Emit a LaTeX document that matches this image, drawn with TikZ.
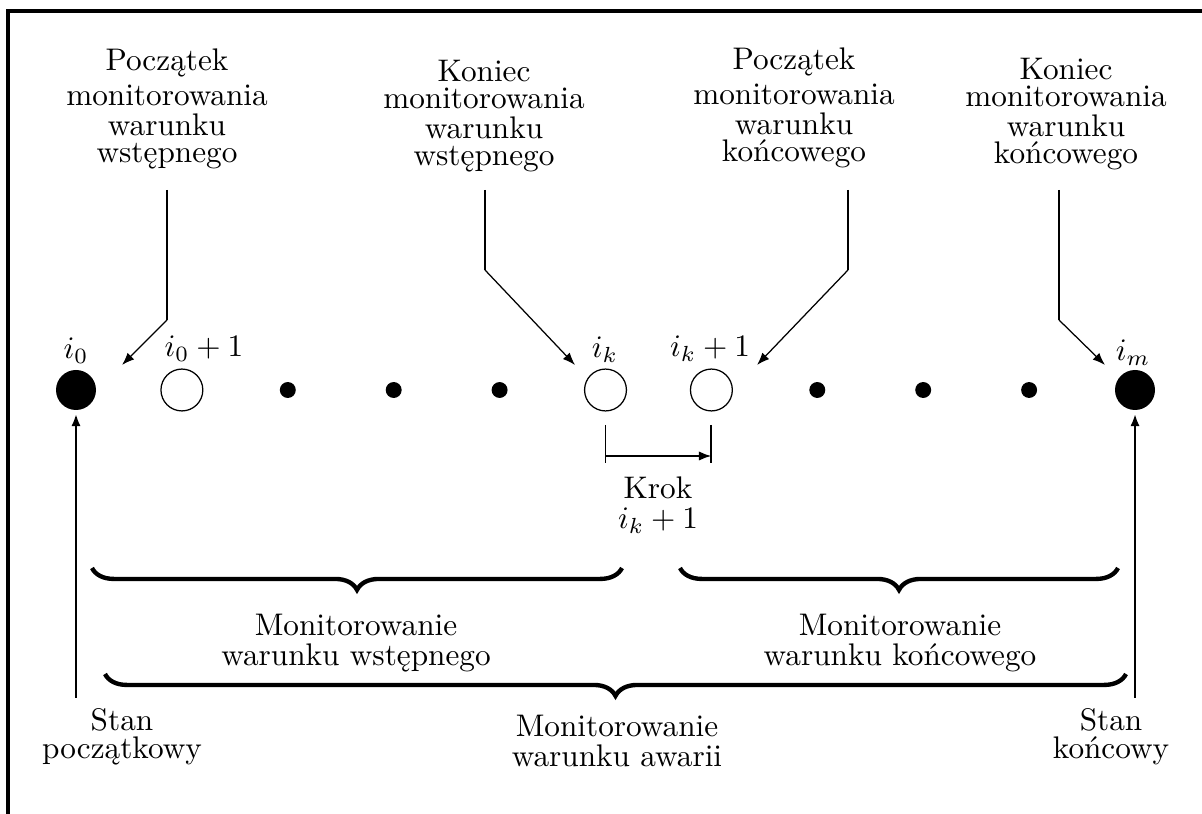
\documentclass[tikz,border=0pt]{standalone}
\usepackage{amsmath}
\usepackage{tikz}
\usetikzlibrary{arrows.meta}
\usetikzlibrary{decorations.pathreplacing}

\begin{document}
\begin{tikzpicture}[x=0.32pt, y=-0.32pt,
        bigdot/.style={circle, fill, minimum size=12.8pt, inner sep=0pt},
        opendot/.style={circle, draw, minimum size=13.4pt, inner sep=0pt},
        smalldot/.style={circle, fill, minimum size=5.1pt, inner sep=0pt},
        lbl/.style={align=center},
        tip/.style={-{Latex[length=4pt, width=3pt]}},
        brc/.style={decorate, decoration={brace, mirror, amplitude=7pt}, line width=1.4pt}]
            \useasboundingbox (0,0) rectangle (1202,814);
            % ramka
            \draw[line width=1.3pt] (8,814) -- (8,11) -- (1202,11);

            % stany
            \node[bigdot] (i0) at (76,390) {};
            \node[opendot] (i1) at (181.9,390) {};
            \foreach \k in {2,3,4,7,8,9}
                \node[smalldot] (d\k) at ({76+105.9*\k},390) {};
            \node[opendot] (ik) at (605.5,390) {};
            \node[opendot] (ik1) at (711.4,390) {};
            \node[bigdot] (im) at (1135,390) {};

            \node (li0) at (76,351) {$i_0$};
            \node (li1) at (204,349) {$i_0+1$};
            \node (lik) at (605,350) {$i_k$};
            \node (lik1) at (710,349) {$i_k+1$};
            \node (lim) at (1133,353) {$i_m$};

            % opisy u gory
            \node[lbl] (pw) at (167,109) {Początek\\[-0.7pt]monitorowania\\[-2.3pt]warunku\\[-3.4pt]wstępnego};
            \node[lbl] (kw) at (484,116) {Koniec\\[-3.4pt]monitorowania\\[-2.3pt]warunku\\[-3.4pt]wstępnego};
            \node[lbl] (pk) at (794,108) {Początek\\[-0.7pt]monitorowania\\[-2.3pt]warunku\\[-3.4pt]końcowego};
            \node[lbl] (kk) at (1066,114) {Koniec\\[-3.4pt]monitorowania\\[-2.3pt]warunku\\[-3.4pt]końcowego};

            \coordinate (b1) at (167,320);
            \coordinate (b2) at (485,270);
            \coordinate (b3) at (848,270);
            \coordinate (b4) at (1059,320);
            \coordinate (a1) at (122,365);
            \coordinate (a2) at (575,365);
            \coordinate (a3) at (757,365);
            \coordinate (a4) at (1105,365);
            \foreach \n in {1,2,3,4} {
                \draw[thick] (b\n |- 0,190) -- (b\n);
                \draw[tip] (b\n) -- (a\n);
            }

            % krok
            \coordinate (s) at (0,456);
            \draw[semithick] ([yshift=-4.3pt]ik.south) -- ++(0,38);
            \draw[semithick] ([yshift=-4.3pt]ik1.south) -- ++(0,38);
            \draw[semithick, tip] (ik |- s) -- (ik1 |- s);
            \node[lbl] (krok) at (658,505) {Krok\\[-2.4pt]$i_k+1$};

            % klamry
            \draw[brc] (92,568) -- (622,568);
            \draw[brc] (680,568) -- (1118,568);
            \draw[brc] (105,674) -- (1126,674);
            \node[lbl] (mw) at (356,643) {Monitorowanie\\[-2.4pt]warunku wstępnego};
            \node[lbl] (mk) at (900,643) {Monitorowanie\\[-2.4pt]warunku końcowego};
            \node[lbl] (ma) at (617,741) {Monitorowanie\\[-2.4pt]warunku awarii};

            % stan poczatkowy i koncowy
            \node[lbl] (sp) at (122,737) {Stan\\[-3pt]początkowy};
            \node[lbl] (sk) at (1111,737) {Stan\\[-3pt]końcowy};
            \draw[thick, tip, shorten >=1pt] (sp.north -| i0) -- (i0.south);
            \draw[thick, tip, shorten >=1pt] (sk.north -| im) -- (im.south);
        \end{tikzpicture}
\end{document}
